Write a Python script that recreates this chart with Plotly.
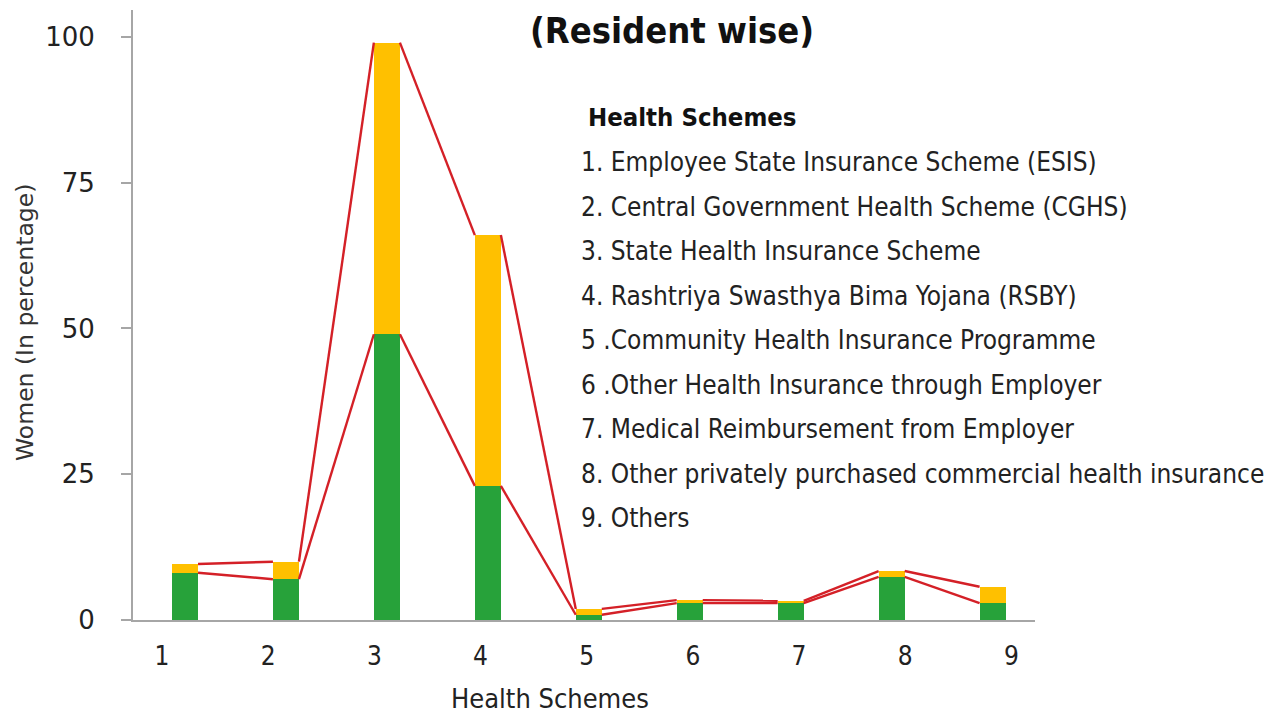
import plotly.graph_objects as go

# ---- data ----
schemes = [1, 2, 3, 4, 5, 6, 7, 8, 9]
tick_labels = ["1", "2", "3", "4", "5", "6", "7", "8", "9"]
green_vals = [8.1, 7.0, 49.0, 23.0, 0.9, 2.9, 2.9, 7.4, 2.9]
yellow_vals = [1.5, 3.0, 50.0, 43.0, 1.0, 0.5, 0.4, 1.0, 2.8]
legend_title = "Health Schemes"
legend_items = [
    "1. Employee State Insurance Scheme (ESIS)",
    "2. Central Government Health Scheme (CGHS)",
    "3. State Health Insurance Scheme",
    "4. Rashtriya Swasthya Bima Yojana (RSBY)",
    "5 .Community Health Insurance Programme",
    "6 .Other Health Insurance through Employer",
    "7. Medical Reimbursement from Employer",
    "8. Other privately purchased commercial health insurance",
    "9. Others",
]

GREEN = "#27A23A"
YELLOW = "#FFC000"
RED = "#D42027"
NARROW = "Liberation Sans Narrow, Arial Narrow, DejaVu Sans Condensed, sans-serif"
WIDE = "DejaVu Sans, Verdana, sans-serif"

OFF = 8  # page body margin
W, H = 1281 - 2 * OFF, 724 - 2 * OFF
# plot area in screen pixels
SL, SR, ST, SB = 133, 1035, 10, 620
L, R, T, B = SL - OFF, SR - OFF, ST - OFF, SB - OFF
BAR_W = 0.258

totals = [g + y for g, y in zip(green_vals, yellow_vals)]

fig = go.Figure()
fig.add_bar(x=schemes, y=green_vals, marker=dict(color=GREEN, line=dict(width=0)),
            width=BAR_W, name="green")
fig.add_bar(x=schemes, y=yellow_vals, marker=dict(color=YELLOW, line=dict(width=0)),
            width=BAR_W, name="yellow")


def series_lines(tops):
    xs, ys = [], []
    for i in range(len(schemes) - 1):
        xs += [schemes[i] + BAR_W / 2, schemes[i + 1] - BAR_W / 2, None]
        ys += [tops[i], tops[i + 1], None]
    return xs, ys


for tops in (green_vals, totals):
    lx, ly = series_lines(tops)
    fig.add_scatter(x=lx, y=ly, mode="lines", line=dict(color=RED, width=2.4),
                    hoverinfo="skip")

# tick label positions (labels drift slightly relative to the bars in the original)
tickvals = [0.772 + (s - 1) * 1.0518 for s in schemes]

fig.update_layout(
    width=W, height=H,
    margin=dict(l=L, r=W - R, t=T, b=H - B),
    paper_bgcolor="white", plot_bgcolor="white",
    barmode="stack", bargap=0, showlegend=False,
    xaxis=dict(range=[0.485, 9.42], tickvals=tickvals, ticktext=tick_labels,
               showgrid=False, zeroline=False, showline=True,
               linecolor="#A6A6A6", linewidth=2, ticks="",
               ticklabelstandoff=12,
               tickfont=dict(family=NARROW, size=26, color="#222")),
    yaxis=dict(range=[0, 104.6], tickvals=[0, 25, 50, 75, 100],
               showgrid=False, zeroline=False, showline=True,
               linecolor="#A6A6A6", linewidth=2, ticks="outside",
               ticklen=10, tickcolor="#A6A6A6", tickwidth=1.5,
               ticklabelstandoff=21,
               tickfont=dict(family=WIDE, size=26, color="#222")),
)


def px_x(p):
    return (p - SL) / (SR - SL)


def px_y(p):
    return (SB - p) / (SB - ST)


ann = []
ann.append(dict(text="<b>(Resident wise)</b>", x=px_x(672), y=px_y(30),
                font=dict(family=NARROW, size=36, color="#111")))
ann.append(dict(text="Women (In percentage)", x=px_x(25), y=px_y(323), textangle=-90,
                font=dict(family=WIDE, size=23.5, color="#333")))
ann.append(dict(text="Health Schemes", x=px_x(550), y=px_y(716), yanchor="bottom",
                font=dict(family=NARROW, size=27, color="#222")))
ann.append(dict(text="<b>" + legend_title + "</b>", x=px_x(586), y=px_y(117),
                xanchor="left", font=dict(family=NARROW, size=25.5, color="#111")))
for k, item in enumerate(legend_items):
    ann.append(dict(text=item, x=px_x(579), y=px_y(162 + k * 44.5), xanchor="left",
                    font=dict(family=NARROW, size=26, color="#222")))
for a in ann:
    a.update(xref="paper", yref="paper", showarrow=False)
    a.setdefault("xanchor", "center")
    a.setdefault("yanchor", "middle")
fig.update_layout(annotations=ann)

fig.write_html("out.html")
